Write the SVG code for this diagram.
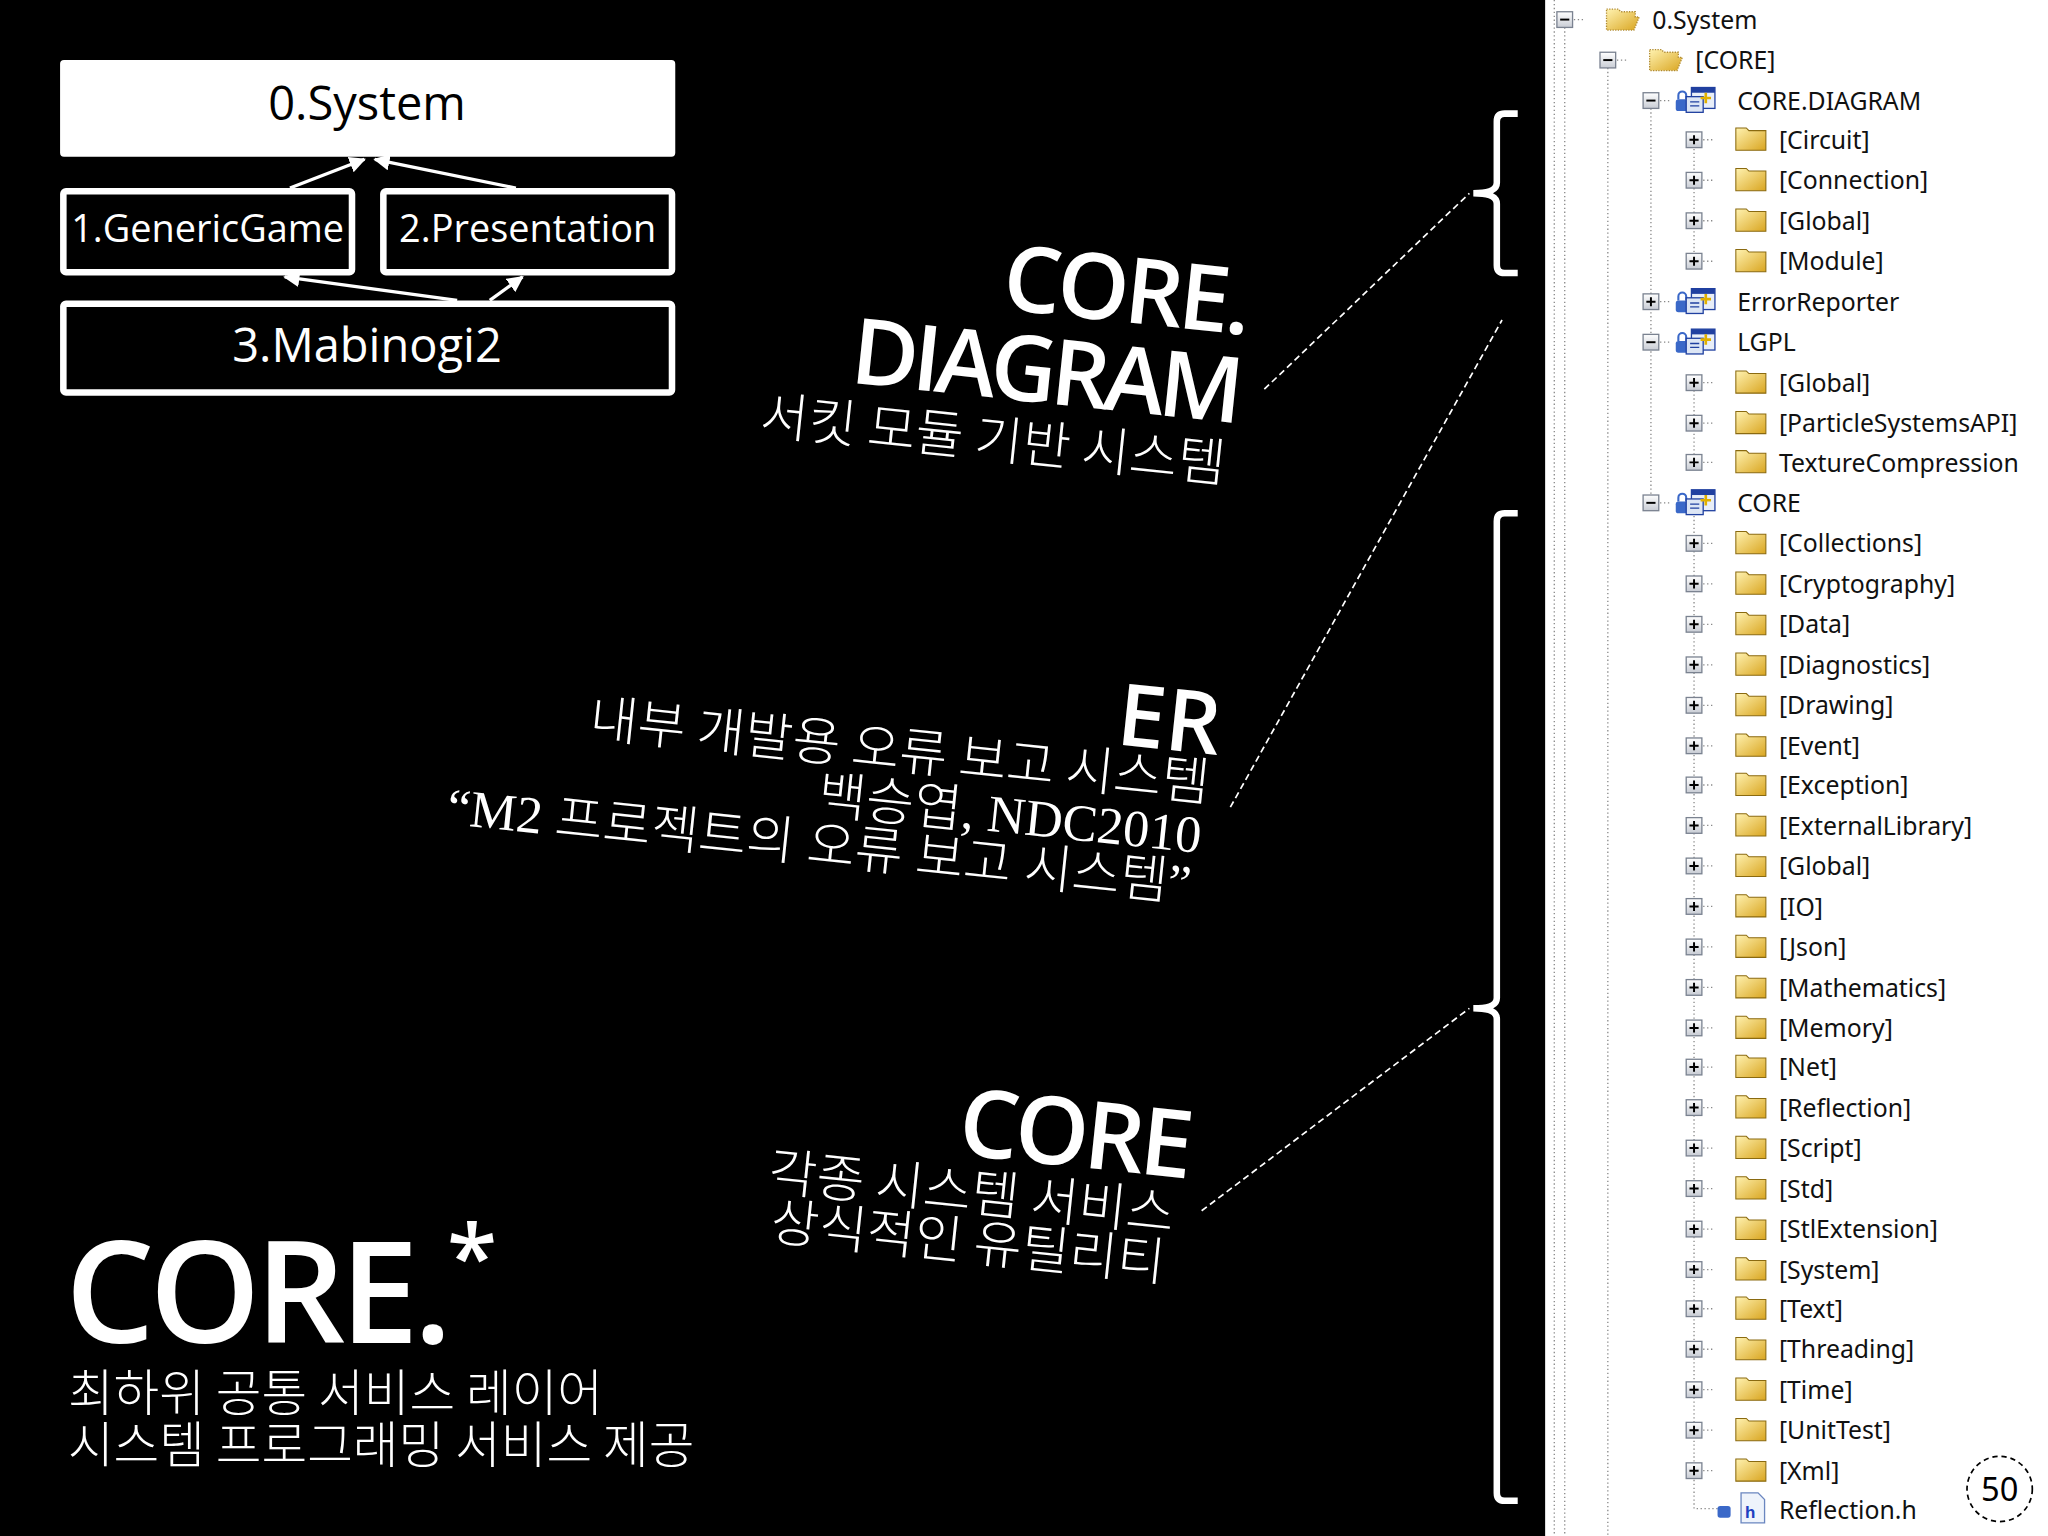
<svg xmlns="http://www.w3.org/2000/svg" xmlns:xlink="http://www.w3.org/1999/xlink" width="2048" height="1536" viewBox="0 0 2048 1536">
<style>
.w{fill:#fff;font-family:"Open Sans","Noto Sans","Noto Sans CJK KR",sans-serif}
.kr{fill:#fff;font-family:"Noto Sans CJK KR","Noto Sans",sans-serif;font-weight:300}
.t{fill:#111;font-family:"Noto Sans","Noto Sans CJK KR",sans-serif;font-size:19px}
.box{fill:#000;stroke:#fff;stroke-width:5}
.arr{stroke:#fff;stroke-width:2.5;fill:none;marker-end:url(#ah)}
.dash{stroke:#fff;stroke-width:1.3;stroke-dasharray:5 3;fill:none}
.brk{stroke:#fff;stroke-width:5;fill:none}
.dot{stroke:#888;stroke-width:1;stroke-dasharray:1 2;fill:none}
</style>
<defs>
<marker id="ah" viewBox="0 0 10 10" refX="9" refY="5" markerWidth="5" markerHeight="5" orient="auto"><path d="M0,0 L10,5 L0,10 z" fill="#fff"/></marker>
<linearGradient id="fg" x1="0" y1="0" x2="1" y2="1"><stop offset="0" stop-color="#fff2b0"/><stop offset="1" stop-color="#d9a520"/></linearGradient>
<linearGradient id="eg" x1="0" y1="0" x2="0" y2="1"><stop offset="0" stop-color="#fff"/><stop offset="1" stop-color="#c8ccd4"/></linearGradient>
<g id="plus"><rect x="-6" y="-6" width="12" height="12" fill="url(#eg)" stroke="#7a8290"/><path d="M-3.5,0H3.5M0,-3.5V3.5" stroke="#000" stroke-width="1.5"/><path d="M7,0H14" class="dot"/></g>
<g id="minus"><rect x="-6" y="-6" width="12" height="12" fill="url(#eg)" stroke="#7a8290"/><path d="M-3.5,0H3.5" stroke="#000" stroke-width="1.5"/><path d="M7,0H14" class="dot"/></g>
<g id="folder"><path d="M0,-9H8L10,-7H23V8H0z" fill="url(#fg)" stroke="#8a6a10" stroke-width="0.8"/></g>
<g id="ofolder"><path d="M0,-8H9L11,-6H22V-2H25L21,8H0z" fill="url(#fg)" stroke="#b08a30" stroke-width="1" stroke-dasharray="1 1"/></g>
<g id="proj"><rect x="-3" y="-1" width="10" height="9" rx="2" fill="#3a68c8"/><path d="M-1,-1V-4A3,3 0 0 1 5,-4V-1" stroke="#3a68c8" stroke-width="1.6" fill="none"/><rect x="9" y="-10" width="18" height="16" fill="#e8eef8" stroke="#2040a0"/><rect x="9" y="-10" width="18" height="4" fill="#2040a0"/><rect x="5" y="-3" width="13" height="12" fill="#dde6f5" stroke="#2040a0"/><path d="M8,1H15M8,4H15" stroke="#2040a0"/><path d="M20,-6V2M16,-2H24" stroke="#e0b000" stroke-width="2"/></g>
</defs>
<rect width="2048" height="1536" fill="#000"/>
<g transform="scale(1.30612)">
<g id="n0"><rect x="46" y="46" width="471" height="74" rx="3" fill="#fff"/><text x="281" y="92" text-anchor="middle" font-size="36" class="w" style="fill:#000">0.System</text></g>
<g id="n1"><rect class="box" x="48.5" y="146.5" width="221" height="62" rx="2"/><text x="159" y="185" text-anchor="middle" font-size="29" class="w">1.GenericGame</text></g>
<g id="n2"><rect class="box" x="293.5" y="146.5" width="221" height="62" rx="2"/><text x="404" y="185" text-anchor="middle" font-size="29" class="w">2.Presentation</text></g>
<g id="n3"><rect class="box" x="48.5" y="232.5" width="466" height="68" rx="2"/><text x="281" y="277" text-anchor="middle" font-size="36" class="w">3.Mabinogi2</text></g>
<g id="connectors">
<path class="arr" d="M222,144L279,122"/><path class="arr" d="M395,144L287,122"/>
<path class="arr" d="M350,230L218,212"/><path class="arr" d="M375,230L400,212"/>
<path class="dash" d="M968,298L1125,148"/><path class="dash" d="M942,618L1150,245"/><path class="dash" d="M920,927L1125,772"/>
</g>
<path class="brk" d="M1162,87H1152Q1146,87 1146,93V140Q1146,148 1128,148Q1146,148 1146,156V203Q1146,209 1152,209H1162"/>
<path class="brk" d="M1162,393H1152Q1146,393 1146,399V764Q1146,772 1128,772Q1146,772 1146,780V1143Q1146,1149 1152,1149H1162"/>
<g transform="rotate(6 948 300)">
<text x="948" y="256" text-anchor="end" font-size="70" class="w" font-weight="600" letter-spacing="-3">CORE.</text>
<text x="948" y="324" text-anchor="end" font-size="70" class="w" font-weight="600" letter-spacing="-4">DIAGRAM</text>
<text x="944" y="370" text-anchor="end" font-size="40" class="kr">서킷 모듈 기반 시스템</text>
</g>
<g transform="rotate(6 930 600)">
<text x="930" y="578" text-anchor="end" font-size="66" class="w" font-weight="600">ER</text>
<text x="926" y="614" text-anchor="end" font-size="40" class="kr">내부 개발용 오류 보고 시스템</text>
<text x="924" y="654" text-anchor="end" font-size="40" class="kr" style="font-family:'Liberation Serif','Noto Sans CJK KR',serif">백승엽, NDC2010</text>
<text x="920" y="692" text-anchor="end" font-size="40" class="kr" style="font-family:'Liberation Serif','Noto Sans CJK KR',serif">“M2 프로젝트의 오류 보고 시스템”</text>
</g>
<g transform="rotate(6 906 920)">
<text x="906" y="902" text-anchor="end" font-size="72" class="w" font-weight="600" letter-spacing="-3">CORE</text>
<text x="900" y="944" text-anchor="end" font-size="40" class="kr">각종 시스템 서비스</text>
<text x="897" y="982" text-anchor="end" font-size="40" class="kr">상식적인 유틸리티</text>
</g>
<text x="50" y="1028" font-size="108" class="w" font-weight="600" letter-spacing="-4">CORE.<tspan font-size="70" dy="-40">*</tspan></text>
<text x="52" y="1080" font-size="38" class="kr">최하위 공통 서비스 레이어</text>
<text x="52" y="1120" font-size="38" class="kr">시스템 프로그래밍 서비스 제공</text>
<g id="tree">
<rect x="1183" y="0" width="385" height="1176" fill="#fff"/>
<path class="dot" d="M1190,0V1176M1198,21V1176M1231,52V1176M1264,83V384M1297,114V200M1297,299V354M1297,392V1155H1315"/>
<use href="#minus" x="1198" y="15"/><use href="#ofolder" x="1230" y="15"/><text class="t" x="1265" y="22">0.System</text>
<use href="#minus" x="1231" y="46"/><use href="#ofolder" x="1263" y="46"/><text class="t" x="1298" y="53">[CORE]</text>
<use href="#minus" x="1264" y="77"/><use href="#proj" x="1286" y="77"/><text class="t" x="1330" y="84">CORE.DIAGRAM</text>
<use href="#plus" x="1297" y="107"/><use href="#folder" x="1329" y="107"/><text class="t" x="1362" y="114">[Circuit]</text>
<use href="#plus" x="1297" y="138"/><use href="#folder" x="1329" y="138"/><text class="t" x="1362" y="145">[Connection]</text>
<use href="#plus" x="1297" y="169"/><use href="#folder" x="1329" y="169"/><text class="t" x="1362" y="176">[Global]</text>
<use href="#plus" x="1297" y="200"/><use href="#folder" x="1329" y="200"/><text class="t" x="1362" y="207">[Module]</text>
<use href="#plus" x="1264" y="231"/><use href="#proj" x="1286" y="231"/><text class="t" x="1330" y="238">ErrorReporter</text>
<use href="#minus" x="1264" y="262"/><use href="#proj" x="1286" y="262"/><text class="t" x="1330" y="269">LGPL</text>
<use href="#plus" x="1297" y="293"/><use href="#folder" x="1329" y="293"/><text class="t" x="1362" y="300">[Global]</text>
<use href="#plus" x="1297" y="324"/><use href="#folder" x="1329" y="324"/><text class="t" x="1362" y="331">[ParticleSystemsAPI]</text>
<use href="#plus" x="1297" y="354"/><use href="#folder" x="1329" y="354"/><text class="t" x="1362" y="361">TextureCompression</text>
<use href="#minus" x="1264" y="385"/><use href="#proj" x="1286" y="385"/><text class="t" x="1330" y="392">CORE</text>
<use href="#plus" x="1297" y="416"/><use href="#folder" x="1329" y="416"/><text class="t" x="1362" y="423">[Collections]</text>
<use href="#plus" x="1297" y="447"/><use href="#folder" x="1329" y="447"/><text class="t" x="1362" y="454">[Cryptography]</text>
<use href="#plus" x="1297" y="478"/><use href="#folder" x="1329" y="478"/><text class="t" x="1362" y="485">[Data]</text>
<use href="#plus" x="1297" y="509"/><use href="#folder" x="1329" y="509"/><text class="t" x="1362" y="516">[Diagnostics]</text>
<use href="#plus" x="1297" y="540"/><use href="#folder" x="1329" y="540"/><text class="t" x="1362" y="547">[Drawing]</text>
<use href="#plus" x="1297" y="571"/><use href="#folder" x="1329" y="571"/><text class="t" x="1362" y="578">[Event]</text>
<use href="#plus" x="1297" y="601"/><use href="#folder" x="1329" y="601"/><text class="t" x="1362" y="608">[Exception]</text>
<use href="#plus" x="1297" y="632"/><use href="#folder" x="1329" y="632"/><text class="t" x="1362" y="639">[ExternalLibrary]</text>
<use href="#plus" x="1297" y="663"/><use href="#folder" x="1329" y="663"/><text class="t" x="1362" y="670">[Global]</text>
<use href="#plus" x="1297" y="694"/><use href="#folder" x="1329" y="694"/><text class="t" x="1362" y="701">[IO]</text>
<use href="#plus" x="1297" y="725"/><use href="#folder" x="1329" y="725"/><text class="t" x="1362" y="732">[Json]</text>
<use href="#plus" x="1297" y="756"/><use href="#folder" x="1329" y="756"/><text class="t" x="1362" y="763">[Mathematics]</text>
<use href="#plus" x="1297" y="787"/><use href="#folder" x="1329" y="787"/><text class="t" x="1362" y="794">[Memory]</text>
<use href="#plus" x="1297" y="817"/><use href="#folder" x="1329" y="817"/><text class="t" x="1362" y="824">[Net]</text>
<use href="#plus" x="1297" y="848"/><use href="#folder" x="1329" y="848"/><text class="t" x="1362" y="855">[Reflection]</text>
<use href="#plus" x="1297" y="879"/><use href="#folder" x="1329" y="879"/><text class="t" x="1362" y="886">[Script]</text>
<use href="#plus" x="1297" y="910"/><use href="#folder" x="1329" y="910"/><text class="t" x="1362" y="917">[Std]</text>
<use href="#plus" x="1297" y="941"/><use href="#folder" x="1329" y="941"/><text class="t" x="1362" y="948">[StlExtension]</text>
<use href="#plus" x="1297" y="972"/><use href="#folder" x="1329" y="972"/><text class="t" x="1362" y="979">[System]</text>
<use href="#plus" x="1297" y="1002"/><use href="#folder" x="1329" y="1002"/><text class="t" x="1362" y="1009">[Text]</text>
<use href="#plus" x="1297" y="1033"/><use href="#folder" x="1329" y="1033"/><text class="t" x="1362" y="1040">[Threading]</text>
<use href="#plus" x="1297" y="1064"/><use href="#folder" x="1329" y="1064"/><text class="t" x="1362" y="1071">[Time]</text>
<use href="#plus" x="1297" y="1095"/><use href="#folder" x="1329" y="1095"/><text class="t" x="1362" y="1102">[UnitTest]</text>
<use href="#plus" x="1297" y="1126"/><use href="#folder" x="1329" y="1126"/><text class="t" x="1362" y="1133">[Xml]</text>
<rect x="1315" y="1153" width="10" height="9" rx="2" fill="#3a68c8"/>
<path d="M1333,1143H1346L1351,1148V1166H1333z" fill="#eef3fb" stroke="#6a86c0"/><text x="1336" y="1162" font-size="13" font-weight="bold" fill="#2040c0" font-family="Liberation Sans,sans-serif">h</text>
<text class="t" x="1362" y="1163">Reflection.h</text>
</g>
<g id="page"><circle cx="1531" cy="1140" r="25" fill="#fff" stroke="#000" stroke-width="1.3" stroke-dasharray="4 3"/><text x="1531" y="1149" text-anchor="middle" font-size="25" font-family="Noto Sans,sans-serif" fill="#000">50</text></g>
</g>
</svg>
